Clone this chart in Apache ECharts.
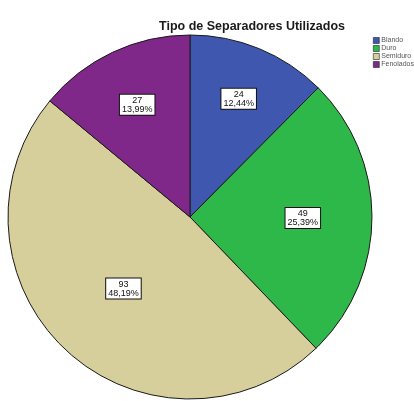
<!DOCTYPE html>
<html>
<head>
<meta charset="utf-8">
<script src="https://cdn.jsdelivr.net/npm/echarts@6/dist/echarts.min.js"></script>
<style>
  html, body { margin: 0; padding: 0; background: #ffffff; }
  #chart { width: 414px; height: 401px; }
</style>
</head>
<body>
<div id="chart"></div>
<script>
// Separator types and their counts
const categories = ['Blando', 'Duro', 'Semiduro', 'Fenolados'];
const counts = [24, 49, 93, 27];
const sliceColors = ['#3f57ae', '#2fb84a', '#d6cf9c', '#80288a'];

// How far out each slice label sits, as a share of the radius
const labelReach = [0.68, 0.60, 0.52, 0.66];

const pieCenter = [190, 217];
const pieRadius = 182;

const total = counts.reduce((a, b) => a + b, 0);
const fmtPct = v => (v / total * 100).toFixed(2).replace('.', ',') + '%';

const chart = echarts.init(document.getElementById('chart'), null, { renderer: 'canvas' });

chart.setOption({
  animation: false,
  backgroundColor: '#ffffff',
  title: {
    text: 'Tipo de Separadores Utilizados',
    left: 247,
    top: 15,
    textAlign: 'center',
    textStyle: {
      fontFamily: 'Liberation Sans, Arial, sans-serif',
      fontSize: 12.5,
      fontWeight: 'bold',
      color: '#1a1a1a'
    }
  },
  legend: {
    orient: 'vertical',
    left: 368,
    top: 32,
    itemWidth: 6,
    itemHeight: 6,
    itemGap: 1,
    icon: 'rect',
    selectedMode: false,
    textStyle: {
      fontFamily: 'Liberation Sans, Arial, sans-serif',
      fontSize: 7,
      lineHeight: 7,
      color: '#555555',
      padding: [0, 0, 0, -3]
    },
    itemStyle: { borderColor: '#222222', borderWidth: 0.6 },
    data: categories
  },
  series: [{
    type: 'pie',
    center: pieCenter,
    radius: pieRadius,
    startAngle: 90,
    clockwise: true,
    avoidLabelOverlap: false,
    color: sliceColors,
    itemStyle: { borderColor: '#1a1a1a', borderWidth: 1 },
    emphasis: { disabled: true },
    label: {
      show: true,
      position: 'inside',
      formatter: p => p.value + '\n' + fmtPct(p.value),
      fontFamily: 'Liberation Sans, Arial, sans-serif',
      fontSize: 9,
      lineHeight: 9,
      color: '#111111',
      backgroundColor: '#ffffff',
      borderColor: '#111111',
      borderWidth: 1,
      padding: [1, 2, 1, 2],
      align: 'center',
      verticalAlign: 'middle'
    },
    labelLayout: params => {
      const r = params.labelRect;
      const cx = r.x + r.width / 2;
      const cy = r.y + r.height / 2;
      const k = labelReach[params.dataIndex] / 0.5;
      return {
        x: pieCenter[0] + (cx - pieCenter[0]) * k,
        y: pieCenter[1] + (cy - pieCenter[1]) * k,
        align: 'center',
        verticalAlign: 'middle'
      };
    },
    data: categories.map((name, i) => ({ name, value: counts[i] }))
  }]
});
</script>
</body>
</html>
